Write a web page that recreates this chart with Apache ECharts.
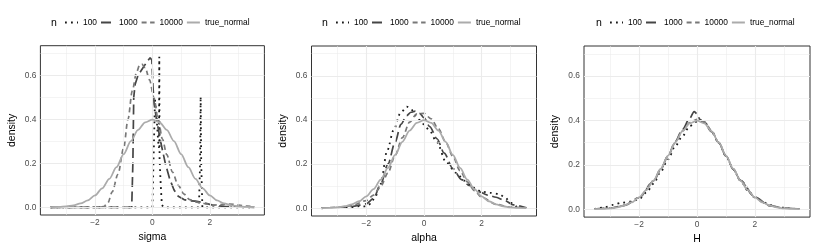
<!DOCTYPE html>
<html><head><meta charset="utf-8">
<script src="https://cdn.jsdelivr.net/npm/echarts@6/dist/echarts.min.js"></script>
<style>html,body{margin:0;padding:0;background:#fff}#c{width:817px;height:250px}</style>
</head><body><div id="c"></div>
<script>
// ---- categories / labels ----
const levels = ['100', '1000', '10000', 'true_normal'];
const xAxisTitles = ['sigma', 'alpha', 'H'];
const yAxisTitle = 'density';
const legendTitle = 'n';
const xTicks = [-2, 0, 2];
const yTicks = [0, 0.2, 0.4, 0.6];
const xMinorGrid = [-3, -1, 1, 3];
const yMinorGrid = [0.1, 0.3, 0.5, 0.7];

// ---- true normal (same in every panel) ----
const trueNormalX = [-3.55,-3.25,-3,-2.75,-2.5,-2.25,-2,-1.75,-1.5,-1.25,-1,-0.75,-0.5,-0.25,0,0.25,0.5,0.75,1,1.25,1.5,1.75,2,2.25,2.5,2.75,3,3.25,3.55];
const trueNormalY = [0.0007,0.002,0.0044,0.0091,0.0175,0.0317,0.054,0.0863,0.1295,0.1826,0.242,0.3011,0.3521,0.3867,0.3989,0.3867,0.3521,0.3011,0.242,0.1826,0.1295,0.0863,0.054,0.0317,0.0175,0.0091,0.0044,0.002,0.0007];

// ---- sigma panel ----
const sigma100X = [-3.55,-2,-1,0,0.06,0.09,0.15,0.2,0.23,0.24,0.25,0.29,0.33,0.4,1,1.62,1.66,1.68,1.7,1.74,2.5,3.55];
const sigma100Y = [0,0,0,0,0,0.49,0.4,0.3,0.27,0.685,0.22,0.1,0.01,0,0,0,0.2,0.505,0.2,0,0,0];
const sigma1000X = [-3.55,-1.5,-0.72,-0.68,-0.65,-0.6,-0.5,-0.35,-0.2,-0.08,-0.02,0.02,0.06,0.12,0.2,0.3,0.45,0.6,0.75,0.9,1.1,1.3,1.5,1.8,2.1,2.5,3,3.55];
const sigma1000Y = [0,0,0,0.2,0.5,0.56,0.6,0.63,0.66,0.68,0.67,0.55,0.47,0.42,0.36,0.29,0.2,0.13,0.08,0.05,0.035,0.03,0.028,0.02,0.01,0.004,0.002,0];
const sigma10000X = [-3.55,-2,-1.7,-1.55,-1.4,-1.2,-1,-0.85,-0.7,-0.55,-0.45,-0.37,-0.25,-0.1,0.05,0.2,0.35,0.5,0.7,0.9,1.1,1.3,1.5,1.7,1.9,2.1,2.4,2.7,3,3.3,3.55];
const sigma10000Y = [0,0,0.003,0.02,0.07,0.15,0.27,0.4,0.53,0.615,0.645,0.651,0.635,0.58,0.5,0.4,0.31,0.24,0.16,0.1,0.06,0.035,0.025,0.02,0.015,0.01,0.012,0.015,0.01,0.005,0.002];

// ---- alpha panel ----
const alpha100X = [-3.55,-3,-2.5,-2.2,-2,-1.85,-1.7,-1.5,-1.28,-1.05,-0.82,-0.6,-0.45,-0.3,-0.15,0,0.2,0.44,0.78,1.12,1.4,1.7,2,2.3,2.6,2.8,3,3.2,3.55];
const alpha100Y = [0,0.002,0.004,0.01,0.008,0.02,0.05,0.11,0.26,0.355,0.43,0.46,0.45,0.42,0.4,0.38,0.35,0.3,0.205,0.16,0.125,0.095,0.075,0.07,0.065,0.05,0.025,0.008,0.001];
const alpha1000X = [-3.55,-3,-2.5,-2,-1.75,-1.5,-1.25,-1,-0.8,-0.6,-0.45,-0.3,-0.15,0,0.2,0.45,0.7,1,1.3,1.6,1.9,2.2,2.5,2.8,3.1,3.55];
const alpha1000Y = [0,0.003,0.008,0.02,0.045,0.11,0.2,0.3,0.38,0.42,0.435,0.44,0.43,0.41,0.37,0.315,0.25,0.18,0.13,0.1,0.075,0.06,0.05,0.035,0.015,0.002];
const alpha10000X = [-3.55,-3,-2.5,-2,-1.75,-1.5,-1.25,-1,-0.75,-0.5,-0.25,0,0.25,0.5,0.75,1,1.25,1.5,1.75,2,2.5,3,3.55];
const alpha10000Y = [0.001,0.004,0.012,0.035,0.06,0.1,0.16,0.24,0.32,0.39,0.428,0.43,0.405,0.36,0.3,0.235,0.17,0.12,0.08,0.05,0.018,0.005,0.001];

// ---- H panel ----
const h100X = [-3.55,-3.2,-2.9,-2.6,-2.3,-2,-1.75,-1.5,-1.25,-1,-0.75,-0.5,-0.25,0,0.25,0.5,0.75,1,1.25,1.5,1.75,2,2.25,2.5,2.75,3,3.25,3.55];
const h100Y = [0.001,0.008,0.02,0.03,0.035,0.045,0.075,0.115,0.17,0.225,0.285,0.33,0.375,0.395,0.395,0.35,0.3,0.24,0.18,0.13,0.085,0.055,0.035,0.02,0.01,0.007,0.003,0.001];
const h1000X = [-3.55,-3,-2.5,-2,-1.5,-1.25,-1,-0.75,-0.5,-0.25,-0.1,0,0.1,0.25,0.5,0.75,1,1.25,1.5,2,2.5,3,3.55];
const h1000Y = [0.001,0.005,0.018,0.052,0.125,0.18,0.24,0.305,0.36,0.41,0.44,0.43,0.405,0.39,0.35,0.3,0.24,0.18,0.13,0.055,0.017,0.005,0.001];
const h10000X = [-3.55,-3,-2.5,-2,-1.5,-1.25,-1,-0.75,-0.5,-0.25,0,0.25,0.5,0.75,1,1.25,1.5,2,2.5,3,3.55];
const h10000Y = [0.001,0.005,0.017,0.053,0.128,0.182,0.24,0.3,0.352,0.39,0.405,0.395,0.355,0.3,0.24,0.182,0.128,0.053,0.017,0.005,0.001];

const panelData = [
  [[sigma100X, sigma100Y, false], [sigma1000X, sigma1000Y, false], [sigma10000X, sigma10000Y, 0.3], [trueNormalX, trueNormalY, 0.3]],
  [[alpha100X, alpha100Y, 0.3], [alpha1000X, alpha1000Y, 0.3], [alpha10000X, alpha10000Y, 0.3], [trueNormalX, trueNormalY, 0.3]],
  [[h100X, h100Y, 0.3], [h1000X, h1000Y, 0.3], [h10000X, h10000Y, 0.3], [trueNormalX, trueNormalY, 0.3]]
];

// ---- styling (not data) ----
const FONT = 'Liberation Sans, Arial, Helvetica, sans-serif';
const lineStyles = {
  '100': { color: '#1a1a1a', width: 1.8, type: [1.8, 4.2], cap: 'butt' },
  '1000': { color: '#454545', width: 1.7, type: [10, 4.5], cap: 'butt' },
  '10000': { color: '#787878', width: 1.7, type: [5, 3.5], cap: 'butt' },
  'true_normal': { color: '#ababab', width: 1.8, type: 'solid' }
};
const grids = [
  { left: 40.4, top: 45.7, width: 224, height: 169.3 },
  { left: 311.5, top: 46, width: 225, height: 170 },
  { left: 584, top: 46, width: 226, height: 172 }
];
const legendLeft = [64, 335, 609];
const legendTitleX = [54, 325, 599];

const zip = (xs, ys) => xs.map((x, i) => [x, ys[i]]);
const fmtX = v => (v < 0 ? '\u2212' + Math.abs(v) : String(v));

const option = {
  animation: false,
  backgroundColor: '#fff',
  grid: grids.map(g => Object.assign({ show: true, borderColor: '#333', borderWidth: 1, backgroundColor: '#fff', containLabel: false }, g)),
  xAxis: grids.map((g, i) => ({
    type: 'value', gridIndex: i, min: -3.9, max: 3.9,
    name: xAxisTitles[i], nameLocation: 'middle', nameGap: 14,
    nameTextStyle: { fontSize: 10.5, color: '#000', fontFamily: FONT },
    axisLine: { show: false },
    axisTick: { show: true, customValues: xTicks, length: 3, lineStyle: { color: '#333' } },
    axisLabel: { customValues: xTicks, formatter: fmtX, fontSize: 8.4, color: '#4d4d4d', margin: 4, fontFamily: FONT },
    splitLine: { show: false }
  })),
  yAxis: grids.map((g, i) => ({
    type: 'value', gridIndex: i, min: -0.035, max: 0.735,
    name: yAxisTitle, nameLocation: 'middle', nameRotate: 90, nameGap: 23,
    nameTextStyle: { fontSize: 10.5, color: '#000', fontFamily: FONT },
    axisLine: { show: false },
    axisTick: { show: true, customValues: yTicks, length: 3, lineStyle: { color: '#333' } },
    axisLabel: { customValues: yTicks, formatter: v => v.toFixed(1), fontSize: 8.4, color: '#4d4d4d', margin: 4, fontFamily: FONT },
    splitLine: { show: false }
  })),
  legend: grids.map((g, i) => ({
    left: legendLeft[i], top: 17.5, orient: 'horizontal', padding: 0,
    itemWidth: 13, itemHeight: 10, itemGap: 3, selectedMode: false,
    data: levels,
    itemStyle: { opacity: 0, borderWidth: 0 },
    textStyle: { fontSize: 8.4, color: '#000', fontFamily: FONT, lineHeight: 10 }
  })),
  graphic: legendTitleX.map(x => ({
    type: 'text', x: x, y: 22.7,
    style: { text: legendTitle, fontSize: 10.5, fill: '#000', fontFamily: FONT, textAlign: 'center', textVerticalAlign: 'middle' }
  })),
  series: []
};

grids.forEach((g, i) => {
  const gridLines = [];
  xMinorGrid.forEach(v => gridLines.push({ xAxis: v, lineStyle: { color: '#ebebeb', width: 0.55, type: 'solid' } }));
  yMinorGrid.forEach(v => gridLines.push({ yAxis: v, lineStyle: { color: '#ebebeb', width: 0.55, type: 'solid' } }));
  xTicks.forEach(v => gridLines.push({ xAxis: v, lineStyle: { color: '#ebebeb', width: 1.1, type: 'solid' } }));
  yTicks.forEach(v => gridLines.push({ yAxis: v, lineStyle: { color: '#ebebeb', width: 1.1, type: 'solid' } }));
  option.series.push({
    type: 'line', xAxisIndex: i, yAxisIndex: i, data: [[0, 0]], symbol: 'none',
    lineStyle: { opacity: 0 }, silent: true, z: 1,
    markLine: { silent: true, symbol: ['none', 'none'], label: { show: false }, emphasis: { disabled: true }, animation: false, data: gridLines }
  });
  panelData[i].forEach((d, k) => {
    const name = levels[k];
    option.series.push({
      type: 'line', name: name, xAxisIndex: i, yAxisIndex: i,
      data: zip(d[0], d[1]), symbol: 'none', showSymbol: false,
      smooth: d[2], smoothMonotone: 'x', z: 2 + k,
      lineStyle: lineStyles[name], itemStyle: { color: lineStyles[name].color },
      emphasis: { disabled: true }, silent: true
    });
  });
});

const chart = echarts.init(document.getElementById('c'), null, { renderer: 'canvas' });
chart.setOption(option);
</script>
</body></html>
